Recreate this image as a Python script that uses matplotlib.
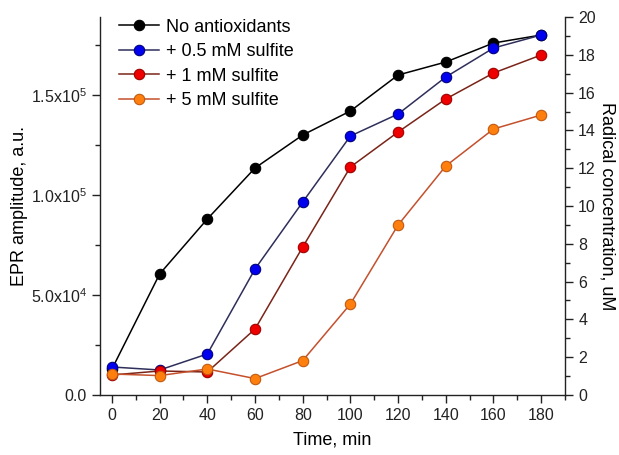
import numpy as np
import matplotlib.pyplot as plt
from matplotlib.ticker import MultipleLocator, FuncFormatter

plt.rcParams['font.family'] = ['Liberation Sans', 'DejaVu Sans']
plt.rcParams['mathtext.fontset'] = 'custom'
plt.rcParams['mathtext.rm'] = 'Liberation Sans'

# time points, min
time = [0, 20, 40, 60, 80, 100, 120, 140, 160, 180]

# EPR amplitude, a.u.
no_antiox = [13000, 60500, 88000, 113500, 130000, 142000, 160000, 166500, 176000, 180000]
sulfite_05 = [14000, 12500, 20500, 63000, 96500, 129500, 140500, 159000, 173500, 180000]
sulfite_1 = [10000, 12000, 11500, 33000, 74000, 114000, 131500, 148000, 161000, 170000]
sulfite_5 = [10500, 9700, 13000, 8200, 17200, 45500, 85000, 114500, 133000, 140000]

labels = ['No antioxidants', '+ 0.5 mM sulfite', '+ 1 mM sulfite', '+ 5 mM sulfite']
line_colors = ['#000000', '#2e2e5a', '#7a2418', '#c4502c']
marker_colors = ['#000000', '#0000ee', '#ee0000', '#ff7f0e']
edge_colors = ['#000000', '#000080', '#a00000', '#c05a10']

fig = plt.figure(figsize=(6.19, 4.55), dpi=100)
ax = fig.add_axes([0.1616, 0.1319, 0.7512, 0.8307])

for ys, lab, lc, mc, ec in zip([no_antiox, sulfite_05, sulfite_1, sulfite_5],
                               labels, line_colors, marker_colors, edge_colors):
    ax.plot(time, ys, '-', color=lc, lw=1.1, marker='o', ms=7.5,
            mfc=mc, mec=ec, mew=0.8, label=lab)

ax.set_xlim(-5, 190)
ax.set_ylim(0, 189000)
ax.xaxis.set_major_locator(MultipleLocator(20))
ax.xaxis.set_minor_locator(MultipleLocator(10))
ax.yaxis.set_major_locator(MultipleLocator(50000))
ax.yaxis.set_minor_locator(MultipleLocator(25000))


def sci_fmt(v, pos):
    if v <= 0:
        return '0.0'
    exp = int(np.floor(np.log10(v)))
    return r'%.1fx10$^{%d}$' % (v / 10**exp, exp)


ax.yaxis.set_major_formatter(FuncFormatter(sci_fmt))

ax.spines['top'].set_visible(False)
ax.spines['right'].set_visible(False)
for s in ['left', 'bottom']:
    ax.spines[s].set_linewidth(1.0)
    ax.spines[s].set_color('#222222')

ax.tick_params(which='major', direction='out', length=6, width=1, labelsize=11.5,
               colors='#222222')
ax.tick_params(which='minor', direction='out', length=3.5, width=1, colors='#222222')

ax2 = ax.twinx()
ax2.set_ylim(0, 20)
ax2.yaxis.set_major_locator(MultipleLocator(2))
ax2.yaxis.set_minor_locator(MultipleLocator(1))
for s in ['top', 'left', 'bottom']:
    ax2.spines[s].set_visible(False)
ax2.spines['right'].set_linewidth(1.0)
ax2.spines['right'].set_color('#222222')
ax2.tick_params(which='major', direction='out', length=6, width=1, labelsize=11.5,
                colors='#222222')
ax2.tick_params(which='minor', direction='out', length=3.5, width=1, colors='#222222')

ax.set_xlabel('Time, min', fontsize=13, labelpad=6)
ax.set_ylabel('EPR amplitude, a.u.', fontsize=13, labelpad=2)
ax2.set_ylabel('Radical concentration, uM', fontsize=13, rotation=-90, labelpad=14)

ax.legend(loc='upper left', bbox_to_anchor=(0.025, 1.015), frameon=False,
          fontsize=13, handlelength=2.2, handletextpad=0.4, labelspacing=0.42,
          borderaxespad=0)

fig.savefig('out.png', dpi=100)
